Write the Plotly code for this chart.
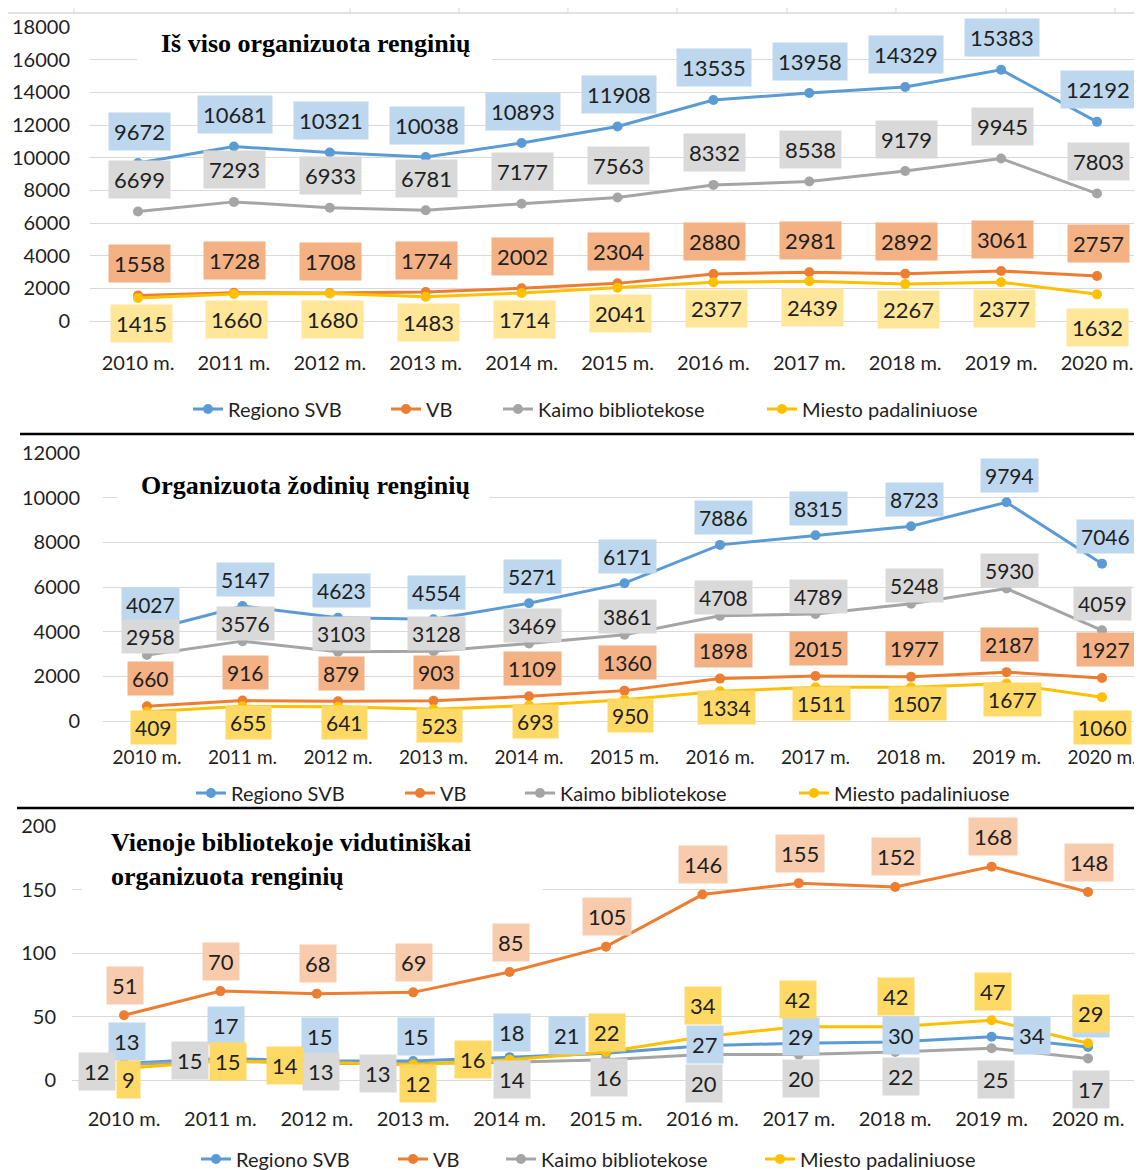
import plotly.graph_objects as go

W, H = 1142, 1170
PAGE_MARGIN = 8          # default body margin of the html page
FIG_W, FIG_H = W - PAGE_MARGIN, H - PAGE_MARGIN

# ---------------- data ----------------
years = ["2010 m.", "2011 m.", "2012 m.", "2013 m.", "2014 m.", "2015 m.",
         "2016 m.", "2017 m.", "2018 m.", "2019 m.", "2020 m."]
series_names = ["Regiono SVB", "VB", "Kaimo bibliotekose", "Miesto padaliniuose"]

# Chart 1: Iš viso organizuota renginių
total_svb = [9672, 10681, 10321, 10038, 10893, 11908, 13535, 13958, 14329, 15383, 12192]
total_vb = [1558, 1728, 1708, 1774, 2002, 2304, 2880, 2981, 2892, 3061, 2757]
total_kaimo = [6699, 7293, 6933, 6781, 7177, 7563, 8332, 8538, 9179, 9945, 7803]
total_miesto = [1415, 1660, 1680, 1483, 1714, 2041, 2377, 2439, 2267, 2377, 1632]

# Chart 2: Organizuota žodinių renginių
verbal_svb = [4027, 5147, 4623, 4554, 5271, 6171, 7886, 8315, 8723, 9794, 7046]
verbal_vb = [660, 916, 879, 903, 1109, 1360, 1898, 2015, 1977, 2187, 1927]
verbal_kaimo = [2958, 3576, 3103, 3128, 3469, 3861, 4708, 4789, 5248, 5930, 4059]
verbal_miesto = [409, 655, 641, 523, 693, 950, 1334, 1511, 1507, 1677, 1060]

# Chart 3: Vienoje bibliotekoje vidutiniškai organizuota renginių
avg_svb = [13, 17, 15, 15, 18, 21, 27, 29, 30, 34, 26]
avg_vb = [51, 70, 68, 69, 85, 105, 146, 155, 152, 168, 148]
avg_kaimo = [12, 15, 13, 13, 14, 16, 20, 20, 22, 25, 17]
avg_miesto = [9, 15, 14, 12, 16, 22, 34, 42, 42, 47, 29]

titles = ["Iš viso organizuota renginių",
          "Organizuota žodinių renginių",
          "Vienoje bibliotekoje vidutiniškai<br>organizuota renginių"]

# ---------------- styles ----------------
LINE_COLORS = ["#5B9BD5", "#ED7D31", "#A5A5A5", "#FFC000"]
LABEL_BG = [
    ["#BDD7EE", "#F4B183", "#D9D9D9", "#FFE699"],
    ["#BDD7EE", "#F4B183", "#D9D9D9", "#FFD966"],
    ["#BDD7EE", "#F8CBAD", "#D9D9D9", "#FFD966"],
]
TEXT = "#1f1f1f"
GRID = "#D9D9D9"
SANS = "Lato"
SERIF = "Liberation Serif"


def offs(default, overrides=None):
    o = [default] * 11
    for k, v in (overrides or {}).items():
        o[k] = v
    return o


# label offsets in screen pixels (dx right, dy down) relative to the point
OFFSETS = [
    [offs((1, -32)), offs((1, -32)), offs((1, -32)), offs((3, 26), {10: (0, 33)})],
    [offs((3, -27)), offs((3, -28)), offs((3, -18), {10: (0, -27)}), offs((6, 16), {10: (0, 30)})],
    [
        [(3, -22), (6, -33), (3, -24), (3, -24), (2, -25), (-39, -18), (3, -1), (2, -7), (6, -6), (40, -1), (3, -28)],
        offs((1, -30)),
        [(-27, 7), (-30, 0), (4, 8), (-35, 10), (2, 17), (3, 18), (2, 29), (2, 24), (6, 24), (4, 31), (3, 31)],
        [(4, 11), (8, 1), (-32, 3), (5, 19), (-37, 0), (1, -20), (1, -31), (-1, -27), (1, -30), (1, -29), (3, -30)],
    ],
]

# chart geometry in reference pixels: first category x, spacing, plot left, plot right,
# y top, y bottom, y max, dtick, x ticklen, y ticklen, x tick font size
GEOM = [
    (138, 95.9, 90, 1142, 27, 321, 18000, 2000, 24, 15, 20),
    (147, 95.5, 103, 1142, 453, 721, 12000, 2000, 19, 18, 19),
    (124, 96.4, 72, 1137, 826, 1080, 200, 50, 21, 11, 20),
]
LABEL_FONT = [22, 21, 22]
LABEL_PAD = [5, 4, 5]

# legend text start x positions and row y (reference pixels)
LEGEND_TEXT_X = [[228, 426, 538, 802], [231, 440, 560, 834], [236, 433, 541, 800]]
LEGEND_Y = [409, 793, 1159]

# title placement (reference pixels)
TITLE_POS = [(315, 43, "center"), (305, 485, "center"), (109, 860, "left")]
TITLE_BOX = [(137, 14, 492, 76), (117, 466, 490, 528), (82, 812, 543, 918)]


def px_x(p):
    return (p - PAGE_MARGIN) / FIG_W


def px_y(p):
    return 1 - (p - PAGE_MARGIN) / FIG_H


data_sets = [
    [total_svb, total_vb, total_kaimo, total_miesto],
    [verbal_svb, verbal_vb, verbal_kaimo, verbal_miesto],
    [avg_svb, avg_vb, avg_kaimo, avg_miesto],
]

fig = go.Figure()
layout = dict(
    width=FIG_W, height=FIG_H,
    margin=dict(l=0, r=0, t=0, b=0, pad=0, autoexpand=False),
    paper_bgcolor="white", plot_bgcolor="white",
    font=dict(family=SANS, color=TEXT),
    showlegend=True,
)
annotations = []
shapes = []

legend_idx = 0
for c in range(3):
    sfx = "" if c == 0 else str(c + 1)
    xa, ya = "x" + sfx, "y" + sfx
    x0, sp, gl, gr, yt, yb, ymax, dt, xtl, ytl, xfs = GEOM[c]
    gr = min(gr, W - 0.5)
    layout["xaxis" + sfx] = dict(
        domain=[px_x(gl), min(1.0, px_x(gr))],
        range=[(gl - x0) / sp, (gr - x0) / sp],
        type="category", anchor=ya, showgrid=False, zeroline=False,
        showline=True, linecolor=GRID, linewidth=1, automargin=False,
        ticks="outside", ticklen=xtl, tickcolor="rgba(0,0,0,0)",
        tickfont=dict(family=SANS, size=xfs, color=TEXT), fixedrange=True,
    )
    layout["yaxis" + sfx] = dict(
        domain=[px_y(yb), px_y(yt)], range=[0, ymax], dtick=dt, tick0=0,
        tickformat="d", automargin=False,
        anchor=xa, showgrid=True, gridcolor=GRID, gridwidth=1, zeroline=False,
        showline=False, ticks="outside", ticklen=ytl, tickcolor="rgba(0,0,0,0)",
        tickfont=dict(family=SANS, size=20, color=TEXT), fixedrange=True,
    )
    for s in range(4):
        legend_idx += 1
        lname = "legend" if legend_idx == 1 else "legend" + str(legend_idx)
        vals = data_sets[c][s]
        fig.add_trace(go.Scatter(
            x=years, y=vals, name=series_names[s], mode="lines+markers",
            line=dict(color=LINE_COLORS[s], width=3),
            marker=dict(color=LINE_COLORS[s], size=10, symbol="circle"),
            cliponaxis=False, xaxis=xa, yaxis=ya, legend=lname,
            hoverinfo="x+y+name",
        ))
        layout[lname] = dict(
            x=px_x(LEGEND_TEXT_X[c][s] - 40), y=px_y(LEGEND_Y[c]),
            xanchor="left", yanchor="middle", orientation="h",
            bgcolor="rgba(0,0,0,0)", borderwidth=0,
            font=dict(family=SANS, size=20, color=TEXT),
        )
    # data labels, drawn in series order so later series sit on top
    for s in range(4):
        vals = data_sets[c][s]
        for i, v in enumerate(vals):
            dx, dy = OFFSETS[c][s][i]
            annotations.append(dict(
                x=years[i], y=v, xref=xa, yref=ya, text=str(v), showarrow=False,
                xshift=dx, yshift=-dy, bgcolor=LABEL_BG[c][s],
                borderpad=LABEL_PAD[c],
                font=dict(family=SANS, size=LABEL_FONT[c], color=TEXT),
            ))
    # title with white backing box
    bx0, by0, bx1, by1 = TITLE_BOX[c]
    shapes.append(dict(type="rect", xref="paper", yref="paper",
                       x0=px_x(bx0), x1=px_x(bx1), y0=px_y(by1), y1=px_y(by0),
                       fillcolor="white", line=dict(width=0), layer="above"))
    tx, ty, al = TITLE_POS[c]
    annotations.append(dict(
        x=px_x(tx), y=px_y(ty), xref="paper", yref="paper",
        text="<b>" + titles[c].replace("<br>", "</b><br><b>") + "</b>",
        showarrow=False, xanchor=al, yanchor="middle", align="left",
        font=dict(family=SERIF, size=26, color="black"),
    ))

# separators between the three charts
for (yy, xs) in [(434, 20), (808, 17)]:
    shapes.append(dict(type="line", xref="paper", yref="paper",
                       x0=px_x(xs), x1=1, y0=px_y(yy), y1=px_y(yy),
                       line=dict(color="black", width=2.5)))

# remnant axis at the very top of the picture
shapes.append(dict(type="line", xref="paper", yref="paper",
                   x0=px_x(8), x1=1, y0=px_y(13), y1=px_y(13),
                   line=dict(color=GRID, width=1.5)))
for tx in [74, 350, 459, 568, 677, 787, 896, 1006, 1115]:
    shapes.append(dict(type="line", xref="paper", yref="paper",
                       x0=px_x(tx), x1=px_x(tx), y0=px_y(13), y1=px_y(8),
                       line=dict(color=GRID, width=1)))

layout["annotations"] = annotations
layout["shapes"] = shapes
fig.update_layout(**layout)

fig.write_html("out.html")
